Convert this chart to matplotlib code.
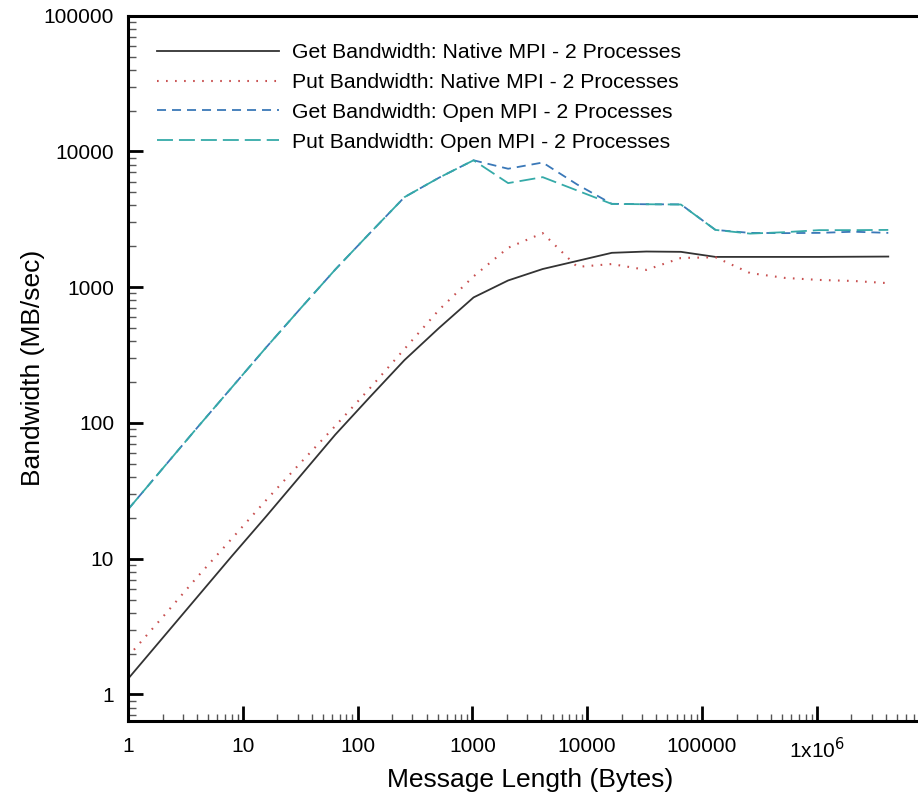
import numpy as np
import matplotlib
matplotlib.use("Agg")
import matplotlib.pyplot as plt
from matplotlib.ticker import LogLocator, NullFormatter

plt.rcParams['font.family'] = ['Liberation Sans', 'DejaVu Sans']
plt.rcParams['lines.scale_dashes'] = False

# message sizes: 1 byte .. 4 MB, powers of two
msg_len = [2 ** k for k in range(23)]

# bandwidth in MB/sec
native_get = [1.3, 2.6, 5.2, 10.4, 20.5, 41, 82, 155, 290, 500, 840, 1120,
              1360, 1560, 1790, 1830, 1820, 1670, 1670, 1670, 1670, 1675, 1680]
native_put = [1.9, 3.7, 7.3, 14, 27, 51, 95, 180, 350, 680, 1200, 1950,
              2500, 1410, 1480, 1340, 1640, 1660, 1270, 1170, 1130, 1110, 1070]
open_get = [23, 46, 92, 182, 360, 700, 1350, 2500, 4600, 6400, 8600, 7450,
            8280, 5700, 4110, 4080, 4070, 2640, 2510, 2500, 2510, 2560, 2510]
open_put = [23, 46, 92, 182, 360, 700, 1350, 2500, 4600, 6400, 8600, 5840,
            6460, 5150, 4100, 4080, 4060, 2640, 2480, 2540, 2630, 2630, 2640]

labels = ["Get Bandwidth: Native MPI - 2 Processes",
          "Put Bandwidth: Native MPI - 2 Processes",
          "Get Bandwidth: Open MPI - 2 Processes",
          "Put Bandwidth: Open MPI - 2 Processes"]

xticks = [1, 10, 100, 1000, 10000, 100000, 1000000]
xtick_labels = ["1", "10", "100", "1000", "10000", "100000", r"1x10$^{6}$"]
yticks = [1, 10, 100, 1000, 10000, 100000]
ytick_labels = ["1", "10", "100", "1000", "10000", "100000"]

fig = plt.figure(figsize=(9.18, 7.94), dpi=100)
ax = fig.add_axes([0.1394, 0.0923, 0.8754, 0.888])

ax.plot(msg_len, native_get, color="#333333", lw=1.3, linestyle="-", label=labels[0])
ax.plot(msg_len, native_put, color="#c85050", lw=1.5, linestyle=(0, (1.2, 5.3)), label=labels[1])
ax.plot(msg_len, open_get, color="#3a78b8", lw=1.3, linestyle=(0, (6.5, 4.3)), label=labels[2])
ax.plot(msg_len, open_put, color="#35aaa8", lw=1.3, linestyle=(0, (11.5, 4.3)), label=labels[3])

ax.set_xscale("log")
ax.set_yscale("log")
ax.set_xlim(1, 1e7)
ax.set_ylim(0.64, 100000)

ax.set_xticks(xticks, xtick_labels)
ax.set_yticks(yticks, ytick_labels)
ax.xaxis.set_minor_locator(LogLocator(base=10, subs=np.arange(2, 10), numticks=20))
ax.yaxis.set_minor_locator(LogLocator(base=10, subs=np.arange(2, 10), numticks=20))
ax.xaxis.set_minor_formatter(NullFormatter())
ax.yaxis.set_minor_formatter(NullFormatter())

ax.tick_params(which="major", direction="in", length=10.8, width=2, labelsize=15,
               top=False, right=False)
ax.tick_params(axis="x", which="major", pad=12)
ax.tick_params(axis="y", which="major", pad=10)
ax.tick_params(which="minor", direction="in", length=5.4, width=1, color="#555555",
               top=False, right=False)
for s in ax.spines.values():
    s.set_linewidth(2.2)

ax.set_xlabel("Message Length (Bytes)", fontsize=19, labelpad=4)
ax.set_ylabel("Bandwidth (MB/sec)", fontsize=19, labelpad=-1)

ax.legend(loc="upper left", bbox_to_anchor=(0.036, 0.9607), frameon=False,
          fontsize=15.2, handlelength=5.78, handletextpad=0.62, labelspacing=0.51,
          borderpad=0, borderaxespad=0)

fig.savefig("out.png", dpi=100)
